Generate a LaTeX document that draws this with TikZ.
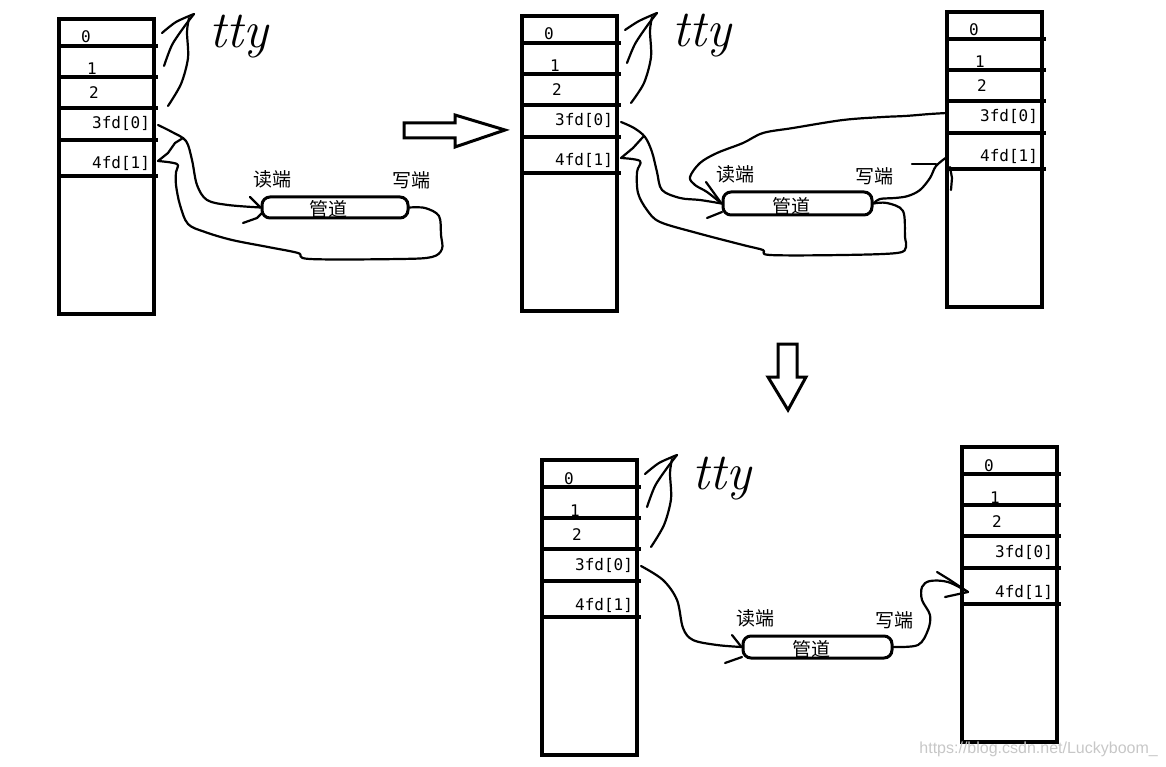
\documentclass[tikz,border=0pt]{standalone}
\usepackage{fontspec}
\newfontfamily\labfont{DejaVu Sans Mono}
\newfontfamily\cjkfont{Noto Sans CJK SC}
\newfontfamily\wmfont{Liberation Sans}
\tikzset{
  box/.style={line width=3.5pt},
  hand/.style={line width=2.2pt, line cap=round, line join=round},
  lab/.style={anchor=base west, inner sep=0pt, font=\labfont\fontsize{16}{18}\selectfont},
  cjk/.style={inner sep=0pt, font=\cjkfont\fontsize{19}{22}\selectfont},
  pipe/.style={draw, line width=3pt, rounded corners=8pt, inner sep=0pt},
  ttytext/.style={anchor=base west, inner sep=0pt, font=\fontsize{52}{56}\selectfont\itshape},
  blockarrow/.style={draw, line width=3pt, fill=white, line join=miter},
}
\newcommand\fdtab[3]{%
  \begin{scope}[shift={(#2,#3)}]
    \draw[box] (0,0) rectangle (95,295);
    \foreach \yy in {27,58,89,121,157} {\draw[box] (0,\yy) -- (99,\yy);}
    \node[lab] (#1-0) at (22,24) {0};
    \node[lab] (#1-1) at (28,56) {1};
    \node[lab] (#1-2) at (30,80) {2};
    \node[lab] (#1-3) at (33,110) {3fd[0]};
    \node[lab] (#1-4) at (33,150) {4fd[1]};
    \coordinate (#1-r0) at (103,14);
    \coordinate (#1-r1) at (105,47);
    \coordinate (#1-r2) at (109,87);
    \coordinate (#1-r3) at (99,106);
    \coordinate (#1-r4) at (99,142);
    \coordinate (#1-l3) at (0,101);
    \coordinate (#1-l4) at (0,145);
  \end{scope}}
\newcommand\ttyarr[3]{%
  \begin{scope}[shift={(#2,#3)}]
    \coordinate (#1-tip) at (135,-5);
    \node[ttytext] (#1-tty) at (150,29) {tty};
    \draw[hand] plot[smooth, tension=.5] coordinates {(#1-r0) (117,3) (#1-tip)};
    \draw[hand] plot[smooth, tension=.5] coordinates {(#1-r1) (113,26) (125,8) (#1-tip)};
    \draw[hand] plot[smooth, tension=.5] coordinates {(#1-r2) (122,65) (129,39) (128,13) (130,-1)};
  \end{scope}}
\begin{document}
\begin{tikzpicture}[x=1pt,y=-1pt]
\useasboundingbox (0,0) rectangle (1166,767);

% ---------- panel 1 ----------
\fdtab{a}{59}{19}
\ttyarr{a}{59}{19}
\node[pipe, minimum width=146pt, minimum height=21pt] (p1) at (335,207.5) {};
\node[cjk] (p1t) at (328,209) {管道};
\node[cjk] (rd1) at (272,179) {读端};
\node[cjk] (wr1) at (411,180) {写端};
\draw[hand] plot[smooth, tension=.55] coordinates {(a-r3) (172,132) (186,141) (192,160) (197,185) (207,200) (228,205) (p1.west)};
\draw[hand] (250,197) -- (p1.west);
\draw[hand] (243,223) -- (257,218) -- (262,213);
\draw[hand] plot[smooth, tension=.55] coordinates {(p1.east) (425,208) (439,216) (441,235) (442,249) (432,257) (400,259) (310,259) (298,253) (268,247) (232,240) (205,232) (188,224) (180,205) (176,185) (176,172) (177,164) (a-r4)};
\draw[hand] (a-r4) -- (168,153) -- (175,143) -- (183,138);

% ---------- block arrow right ----------
\draw[blockarrow] (404,123) -- (455,123) -- (455,115) -- (505,130) -- (455,147) -- (455,138) -- (404,138) -- cycle;

% ---------- panel 2 ----------
\fdtab{b}{522}{16}
\ttyarr{b}{522}{18}
\fdtab{c}{947}{12}
\node[pipe, minimum width=149pt, minimum height=23pt] (p2) at (797.5,203.5) {};
\node[cjk] (p2t) at (791,206) {管道};
\node[cjk] (rd2) at (735,174) {读端};
\node[cjk] (wr2) at (874,176) {写端};
\draw[hand] plot[smooth, tension=.55] coordinates {(b-r3) (634,128) (645,137) (652,152) (657,172) (662,190) (680,198) (700,200) (p2.west)};
\draw[hand] (706,182) -- (p2.west);
\draw[hand] (707,218) -- (722,212);
\draw[hand] plot[smooth, tension=.55] coordinates {(c-l3) (930,114) (905,116) (883,117) (843,120) (793,128) (763,133) (743,143) (717,153) (700,163) (690,177) (695,185) (707,192) (p2.west)};
\draw[hand] plot[smooth, tension=.55] coordinates {(p2.east) (887,203) (903,211) (905,237) (906,247) (897,253) (843,255) (770,255) (763,250) (743,245) (697,233) (660,222) (647,210) (638,193) (637,172) (640,161) (b-r4)};
\draw[hand] (b-r4) -- (633,148) -- (643,137);
\draw[hand] plot[smooth, tension=.55] coordinates {(p2.east) (880,199) (895,198) (908,196) (920,190) (930,178) (936,166) (c-l4)};
\draw[hand] (912,164) -- (936,164);
\draw[hand] (950,167) -- (952,178) -- (951,190);

% ---------- block arrow down ----------
\draw[blockarrow] (778,344) -- (797,344) -- (797,377) -- (806,377) -- (788,410) -- (768,377) -- (778,377) -- cycle;

% ---------- panel 3 ----------
\fdtab{d}{542}{460}
\ttyarr{d}{542}{460}
\fdtab{e}{962}{447}
\node[pipe, minimum width=149pt, minimum height=22pt] (p3) at (817.5,647) {};
\node[cjk] (p3t) at (811,649) {管道};
\node[cjk] (rd3) at (755,618) {读端};
\node[cjk] (wr3) at (894,620) {写端};
\coordinate (tip3) at ([xshift=6pt]e-l4);
\draw[hand] plot[smooth, tension=.55] coordinates {(d-r3) (663,580) (677,600) (683,628) (693,640) (717,645) (p3.west)};
\draw[hand] (732,635) -- (p3.west);
\draw[hand] (725,663) -- (742,657);
\draw[hand] plot[smooth, tension=.55] coordinates {(p3.east) (918,645) (928,630) (930,615) (922,600) (922,587) (930,581) (948,582) (tip3)};
\draw[hand] (937,572) -- (950,580) -- (tip3);
\draw[hand] (945,597) -- (tip3);

% ---------- watermark ----------
\node[anchor=east, inner sep=0pt, text=black!22, font=\wmfont\fontsize{16}{18}\selectfont] (wm) at (1158,749) {https://blog.csdn.net/Luckyboom\_};
\end{tikzpicture}
\end{document}
